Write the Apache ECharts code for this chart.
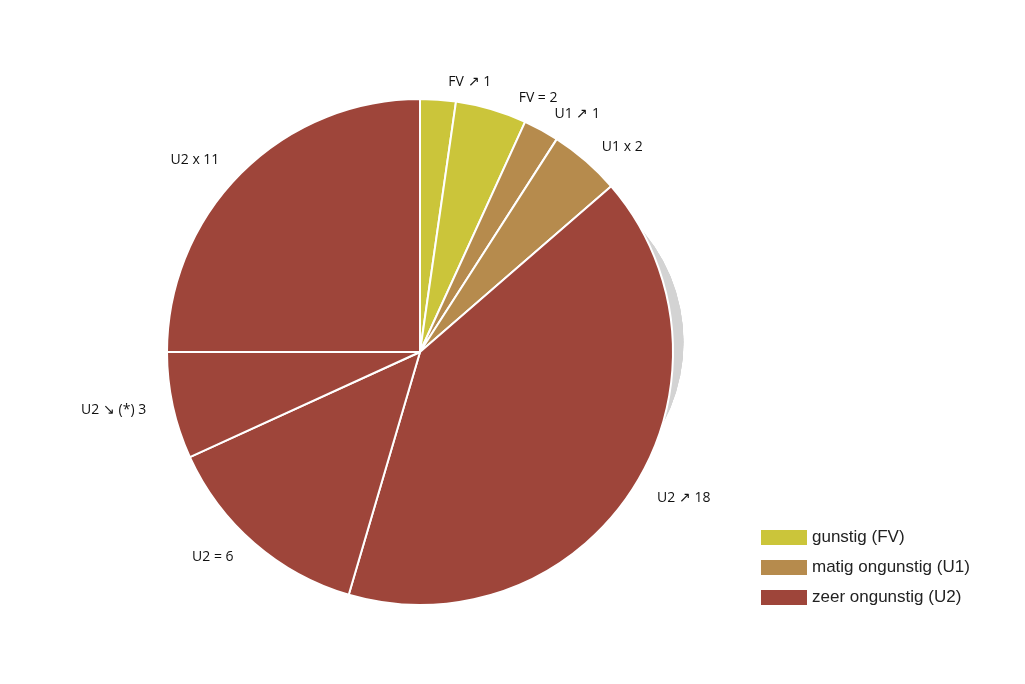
<!DOCTYPE html>
<html>
<head>
<meta charset="utf-8">
<script src="https://cdn.jsdelivr.net/npm/echarts@6/dist/echarts.min.js"></script>
<style>html,body{margin:0;background:#fff}#chart{width:1025px;height:684px}</style>
</head>
<body>
<div id="chart"></div>
<script>
const labels = ['FV ↗ 1', 'FV = 2', 'U1 ↗ 1', 'U1 x 2', 'U2 ↗ 18', 'U2 = 6', 'U2 ↘ (*) 3', 'U2 x 11'];
const values = [1, 2, 1, 2, 18, 6, 3, 11];
const groups = ['FV', 'FV', 'U1', 'U1', 'U2', 'U2', 'U2', 'U2'];
const legendNames = ['gunstig (FV)', 'matig ongunstig (U1)', 'zeer ongunstig (U2)'];
const colors = { FV: '#cbc53a', U1: '#b68b4d', U2: '#9e453a' };
const legendColors = [colors.FV, colors.U1, colors.U2];

const chart = echarts.init(document.getElementById('chart'));

const data = labels.map((name, i) => ({
    name: name,
    value: values[i],
    itemStyle: { color: colors[groups[i]] }
}));

chart.setOption({
    animation: false,
    legend: {
        data: legendNames,
        orient: 'vertical',
        left: 756,
        top: 524,
        itemWidth: 46,
        itemHeight: 15,
        itemGap: 13,
        icon: 'rect',
        textStyle: { fontFamily: 'Liberation Sans', fontSize: 17, color: '#222' },
        selectedMode: false
    },
    series: [
        {
            type: 'pie',
            center: [420, 352],
            radius: [0, 253],
            startAngle: 90,
            clockwise: true,
            data: data,
            itemStyle: { borderColor: '#fff', borderWidth: 2 },
            label: {
                show: true,
                position: 'outside',
                fontFamily: 'Open Sans',
                fontSize: 14,
                color: '#111'
            },
            labelLine: { show: false, length: 18, length2: 4 },
            emphasis: { disabled: true }
        }
    ].concat(legendNames.map((n, i) => ({
        type: 'pie',
        name: n,
        data: [],
        itemStyle: { color: legendColors[i] }
    })))
});
</script>
</body>
</html>
